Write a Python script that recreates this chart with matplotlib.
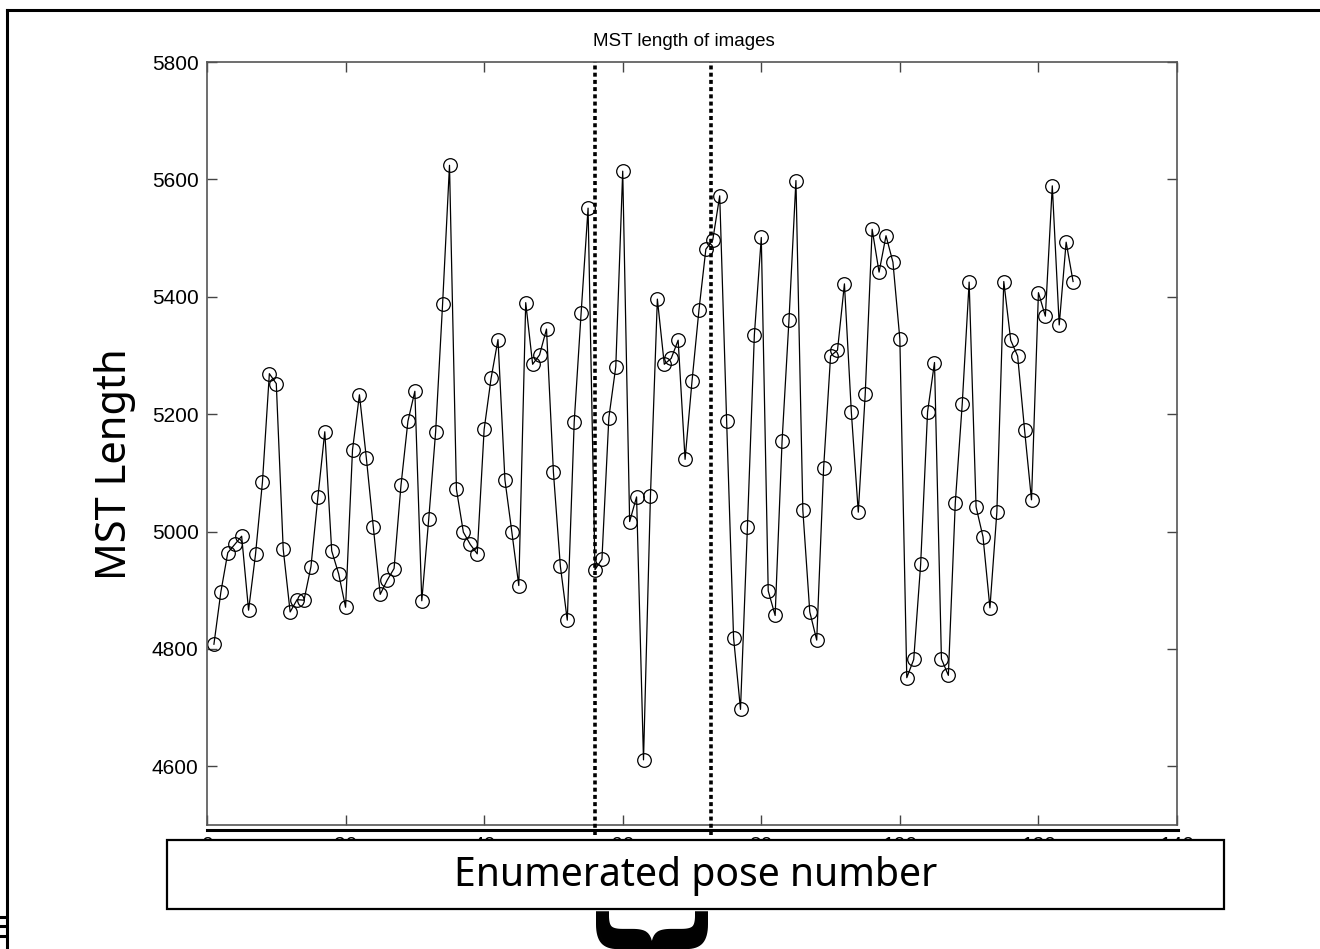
import numpy as np
import matplotlib
matplotlib.use("Agg")
import matplotlib.pyplot as plt
from matplotlib.lines import Line2D
from matplotlib.patches import Rectangle

plt.rcParams['font.family'] = ['Liberation Sans', 'DejaVu Sans']

# MST length per enumerated pose
mst_length = [
    4808, 4897, 4964, 4978, 4992, 4866, 4961, 5084, 5269, 5252,
    4970, 4863, 4884, 4883, 4940, 5058, 5170, 4967, 4928, 4871,
    5139, 5233, 5125, 5008, 4893, 4917, 4937, 5079, 5188, 5239,
    4882, 5021, 5170, 5387, 5624, 5072, 4999, 4978, 4962, 5174,
    5261, 5327, 5088, 4999, 4908, 5390, 5285, 5301, 5345, 5101,
    4941, 4849, 5187, 5373, 5551, 4935, 4953, 5194, 5281, 5614,
    5017, 5059, 4611, 5060, 5396, 5285, 5295, 5326, 5123, 5256,
    5377, 5481, 5497, 5572, 5188, 4819, 4697, 5008, 5335, 5501,
    4899, 4857, 5154, 5361, 5598, 5036, 4863, 4815, 5109, 5299,
    5309, 5422, 5203, 5033, 5234, 5515, 5442, 5504, 5459, 5328,
    4751, 4782, 4944, 5204, 5288, 4783, 4755, 5049, 5217, 5425,
    5042, 4991, 4870, 5033, 5426, 5326, 5299, 5173, 5054, 5407,
    5367, 5589, 5352, 5493, 5426,
]
pose = np.arange(1, len(mst_length) + 1)

# the two dotted markers around the highlighted pose range
marker_poses = [56, 72.7]

xticks = list(range(0, 141, 20))
yticks = list(range(4600, 5801, 200))

W, H = 1320, 949
fig = plt.figure(figsize=(W / 100, H / 100), dpi=100)
fig.patch.set_facecolor('white')


def fx(px):
    return px / W


def fy(py):
    return 1 - py / H


ax = fig.add_axes([fx(207), fy(825), fx(1177 - 207), (825 - 62) / H])
ax.plot(pose, mst_length, color='black', lw=0.9, marker='o', ms=9.8,
        mfc='none', mec='black', mew=0.9)

for xm in marker_poses:
    ax.plot([xm, xm], [4483, 5800], color='black', lw=2.6,
            linestyle=(0, (1.1, 0.9)), clip_on=False, zorder=5)

ax.set_xlim(0, 140)
ax.set_ylim(4500, 5800)
ax.set_xticks(xticks)
ax.set_yticks(yticks)
ax.tick_params(direction='in', top=True, right=True, length=7, width=1,
               color='#444444', labelsize=15, pad=6)
ax.tick_params(axis='x', pad=8)
for s in ax.spines.values():
    s.set_color('#555555')
    s.set_linewidth(1.2)
fig.text(fx(684), fy(42), 'MST length of images', ha='center', va='center',
         fontsize=13.5)

# thick line under the x axis
fig.add_artist(Line2D([fx(207), fx(1178)], [fy(830), fy(830)], color='black', lw=2.2))

# slide frame
fig.add_artist(Line2D([fx(7), 1], [fy(10), fy(10)], color='black', lw=2.2))
fig.add_artist(Line2D([fx(7), fx(7)], [fy(10), 0], color='black', lw=2.2))
for yy in (917, 926, 936):
    fig.add_artist(Line2D([0, fx(5)], [fy(yy), fy(yy)], color='black', lw=2.2))

# y label
fig.text(fx(115), fy(464), 'MST Length', rotation=90, ha='center', va='center',
         fontsize=30, family=['Noto Sans', 'DejaVu Sans'])

# x label box covering the tick labels
box = Rectangle((fx(167), fy(909)), fx(1224 - 167), (909 - 840) / H,
                transform=fig.transFigure, facecolor='white', edgecolor='black',
                lw=1.6, zorder=10)
fig.add_artist(box)
fig.text(fx(696), fy(876), 'Enumerated pose number', ha='center', va='center',
         fontsize=28.2, family=['Noto Sans', 'DejaVu Sans'], zorder=11)

# brace under the box
fig.text(fx(633), fy(910), '}', rotation=-90, ha='center', va='top',
         fontsize=88, fontweight='bold', family=['DejaVu Sans'], zorder=11)

fig.savefig('out.png', dpi=100, facecolor='white')
